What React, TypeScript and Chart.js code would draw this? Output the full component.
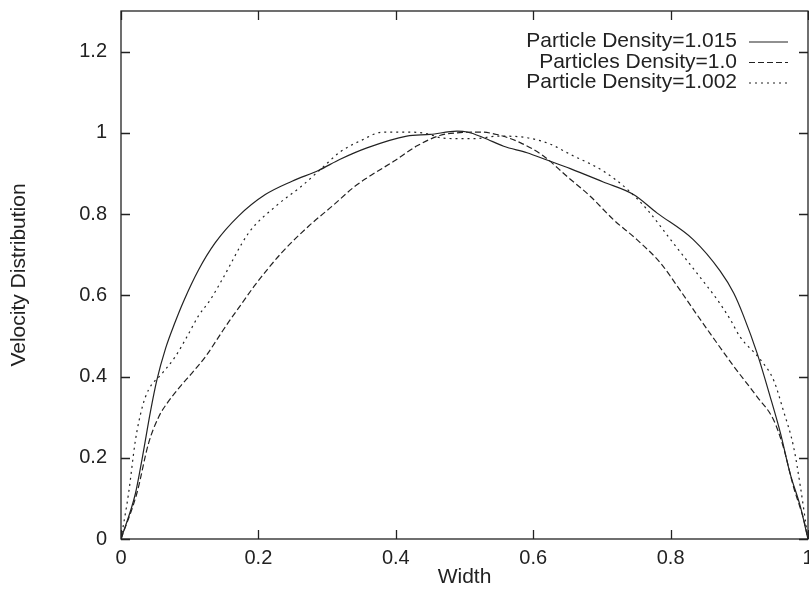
import React, { useEffect, useRef } from "react";
import { Chart, registerables } from "chart.js";

Chart.register(...registerables);

// Particle Density = 1.015 (solid)
const solidX = [0, 0.021, 0.031, 0.043, 0.052, 0.065, 0.079, 0.091, 0.113, 0.137, 0.171, 0.21, 0.249, 0.288, 0.319, 0.358, 0.416, 0.45, 0.489, 0.504, 0.528, 0.557, 0.591, 0.62, 0.654, 0.702, 0.746, 0.78, 0.833, 0.872, 0.892, 0.906, 0.926, 0.945, 0.96, 0.974, 0.989, 1];
const solidY = [0, 0.112, 0.2, 0.315, 0.39, 0.47, 0.535, 0.585, 0.663, 0.729, 0.795, 0.848, 0.881, 0.908, 0.935, 0.963, 0.992, 0.996, 1.004, 1.002, 0.988, 0.967, 0.951, 0.933, 0.912, 0.879, 0.848, 0.803, 0.737, 0.66, 0.605, 0.55, 0.457, 0.35, 0.26, 0.161, 0.079, 0];

// Particles Density = 1.0 (dashed)
const dashX = [0, 0.023, 0.04, 0.055, 0.067, 0.086, 0.103, 0.123, 0.147, 0.157, 0.178, 0.195, 0.234, 0.273, 0.307, 0.341, 0.358, 0.397, 0.431, 0.465, 0.489, 0.523, 0.547, 0.581, 0.615, 0.649, 0.683, 0.717, 0.751, 0.785, 0.814, 0.838, 0.858, 0.892, 0.926, 0.95, 0.964, 0.979, 0.994, 1];
const dashY = [0, 0.112, 0.235, 0.301, 0.334, 0.375, 0.408, 0.449, 0.51, 0.535, 0.585, 0.625, 0.705, 0.77, 0.819, 0.869, 0.889, 0.93, 0.968, 0.994, 1.0, 1.002, 0.996, 0.976, 0.943, 0.893, 0.844, 0.786, 0.737, 0.68, 0.612, 0.553, 0.505, 0.425, 0.35, 0.293, 0.227, 0.128, 0.046, 0];

// Particle Density = 1.002 (dotted)
const dotX = [0, 0.011, 0.021, 0.031, 0.04, 0.06, 0.079, 0.096, 0.113, 0.13, 0.147, 0.186, 0.225, 0.263, 0.293, 0.319, 0.348, 0.382, 0.416, 0.445, 0.465, 0.484, 0.518, 0.547, 0.591, 0.625, 0.654, 0.702, 0.737, 0.766, 0.8, 0.838, 0.868, 0.887, 0.901, 0.931, 0.95, 0.964, 0.979, 0.989, 1];
const dotY = [0, 0.112, 0.243, 0.325, 0.367, 0.408, 0.449, 0.498, 0.55, 0.589, 0.638, 0.754, 0.819, 0.869, 0.914, 0.953, 0.98, 1.002, 1.002, 0.998, 0.988, 0.986, 0.986, 0.992, 0.988, 0.972, 0.947, 0.906, 0.861, 0.811, 0.737, 0.655, 0.589, 0.54, 0.498, 0.441, 0.391, 0.317, 0.227, 0.128, 0];

const seriesLabels = ["Particle Density=1.015", "Particles Density=1.0", "Particle Density=1.002"];
const xTickValues = [0, 0.2, 0.4, 0.6, 0.8, 1];
const yTickValues = [0, 0.2, 0.4, 0.6, 0.8, 1, 1.2];

const FONT = "'Liberation Sans', Arial, Helvetica, sans-serif";
const INK = "#222";

const toPoints = (xs: number[], ys: number[]) => xs.map((x, i) => ({ x, y: ys[i] }));
const fmt = (v: number) => String(Math.round(v * 10) / 10);

const zeroPad = (s: any) => {
  s.paddingTop = 0;
  s.paddingBottom = 0;
  s.paddingLeft = 0;
  s.paddingRight = 0;
};

const framePlugin = {
  id: "frame",
  afterDraw(chart: any) {
    const { ctx, chartArea: a, scales } = chart;
    const xs = scales.x, ys = scales.y;
    ctx.save();
    ctx.strokeStyle = INK;
    ctx.lineWidth = 1.3;
    ctx.setLineDash([]);
    ctx.strokeRect(a.left, a.top, a.right - a.left, a.bottom - a.top);
    const L = 9;
    ctx.beginPath();
    for (const v of yTickValues) {
      const p = Math.round(ys.getPixelForValue(v)) + 0.5;
      ctx.moveTo(a.left, p); ctx.lineTo(a.left + L, p);
      ctx.moveTo(a.right, p); ctx.lineTo(a.right - L, p);
    }
    for (const v of xTickValues) {
      const p = Math.round(xs.getPixelForValue(v)) + 0.5;
      ctx.moveTo(p, a.bottom); ctx.lineTo(p, a.bottom - L);
      ctx.moveTo(p, a.top); ctx.lineTo(p, a.top + L);
    }
    ctx.stroke();

    // legend: right-aligned text, line sample to the right
    ctx.font = `21px ${FONT}`;
    ctx.fillStyle = INK;
    ctx.textAlign = "right";
    ctx.textBaseline = "middle";
    chart.data.datasets.forEach((ds: any, i: number) => {
      const y = 41.5 + i * 20.5;
      ctx.fillText(ds.label, 737, y);
      ctx.beginPath();
      ctx.setLineDash(ds.borderDash || []);
      ctx.lineWidth = 1.2;
      ctx.moveTo(749, y + 0.5);
      ctx.lineTo(788, y + 0.5);
      ctx.stroke();
    });
    ctx.restore();
  },
};

export default function App() {
  const ref = useRef<HTMLCanvasElement | null>(null);
  useEffect(() => {
    if (!ref.current) return;
    const common = {
      borderColor: INK,
      borderWidth: 1.2,
      pointRadius: 0,
      fill: false,
      cubicInterpolationMode: "monotone" as const,
    };
    const chart = new Chart(ref.current, {
      type: "line",
      data: {
        datasets: [
          { ...common, label: seriesLabels[0], data: toPoints(solidX, solidY), borderDash: [] },
          { ...common, label: seriesLabels[1], data: toPoints(dashX, dashY), borderDash: [6, 3] },
          { ...common, label: seriesLabels[2], data: toPoints(dotX, dotY), borderDash: [2, 4] },
        ],
      },
      options: {
        animation: false,
        responsive: true,
        maintainAspectRatio: false,
        layout: { padding: { left: 0, top: 11, right: 1, bottom: 0 } },
        plugins: { legend: { display: false }, tooltip: { enabled: false } },
        scales: {
          x: {
            type: "linear",
            min: 0,
            max: 1,
            afterBuildTicks: (s: any) => { s.ticks = xTickValues.map((v) => ({ value: v })); },
            afterFit: (s: any) => { s.height = 51; zeroPad(s); },
            grid: { display: false, drawTicks: false },
            border: { display: false },
            ticks: { color: INK, font: { family: FONT, size: 20 }, padding: 7, maxRotation: 0, callback: (v: any) => fmt(Number(v)) },
            title: { display: true, text: "Width", color: INK, font: { family: FONT, size: 21 }, padding: { top: 0, bottom: 0 } },
          },
          y: {
            type: "linear",
            min: 0,
            max: 1.3,
            afterBuildTicks: (s: any) => { s.ticks = yTickValues.map((v) => ({ value: v })); },
            afterFit: (s: any) => { s.width = 121; zeroPad(s); },
            grid: { display: false, drawTicks: false },
            border: { display: false },
            ticks: { color: INK, font: { family: FONT, size: 20 }, padding: 14, callback: (v: any) => fmt(Number(v)) },
            title: { display: true, text: "Velocity Distribution", color: INK, font: { family: FONT, size: 21 }, padding: { top: 7, bottom: 0 } },
          },
        },
      },
      plugins: [framePlugin],
    });
    return () => chart.destroy();
  }, []);
  return (
    <div style={{ position: "fixed", left: 0, top: 0, width: 809, height: 590, background: "#fff" }}>
      <canvas ref={ref} />
    </div>
  );
}
